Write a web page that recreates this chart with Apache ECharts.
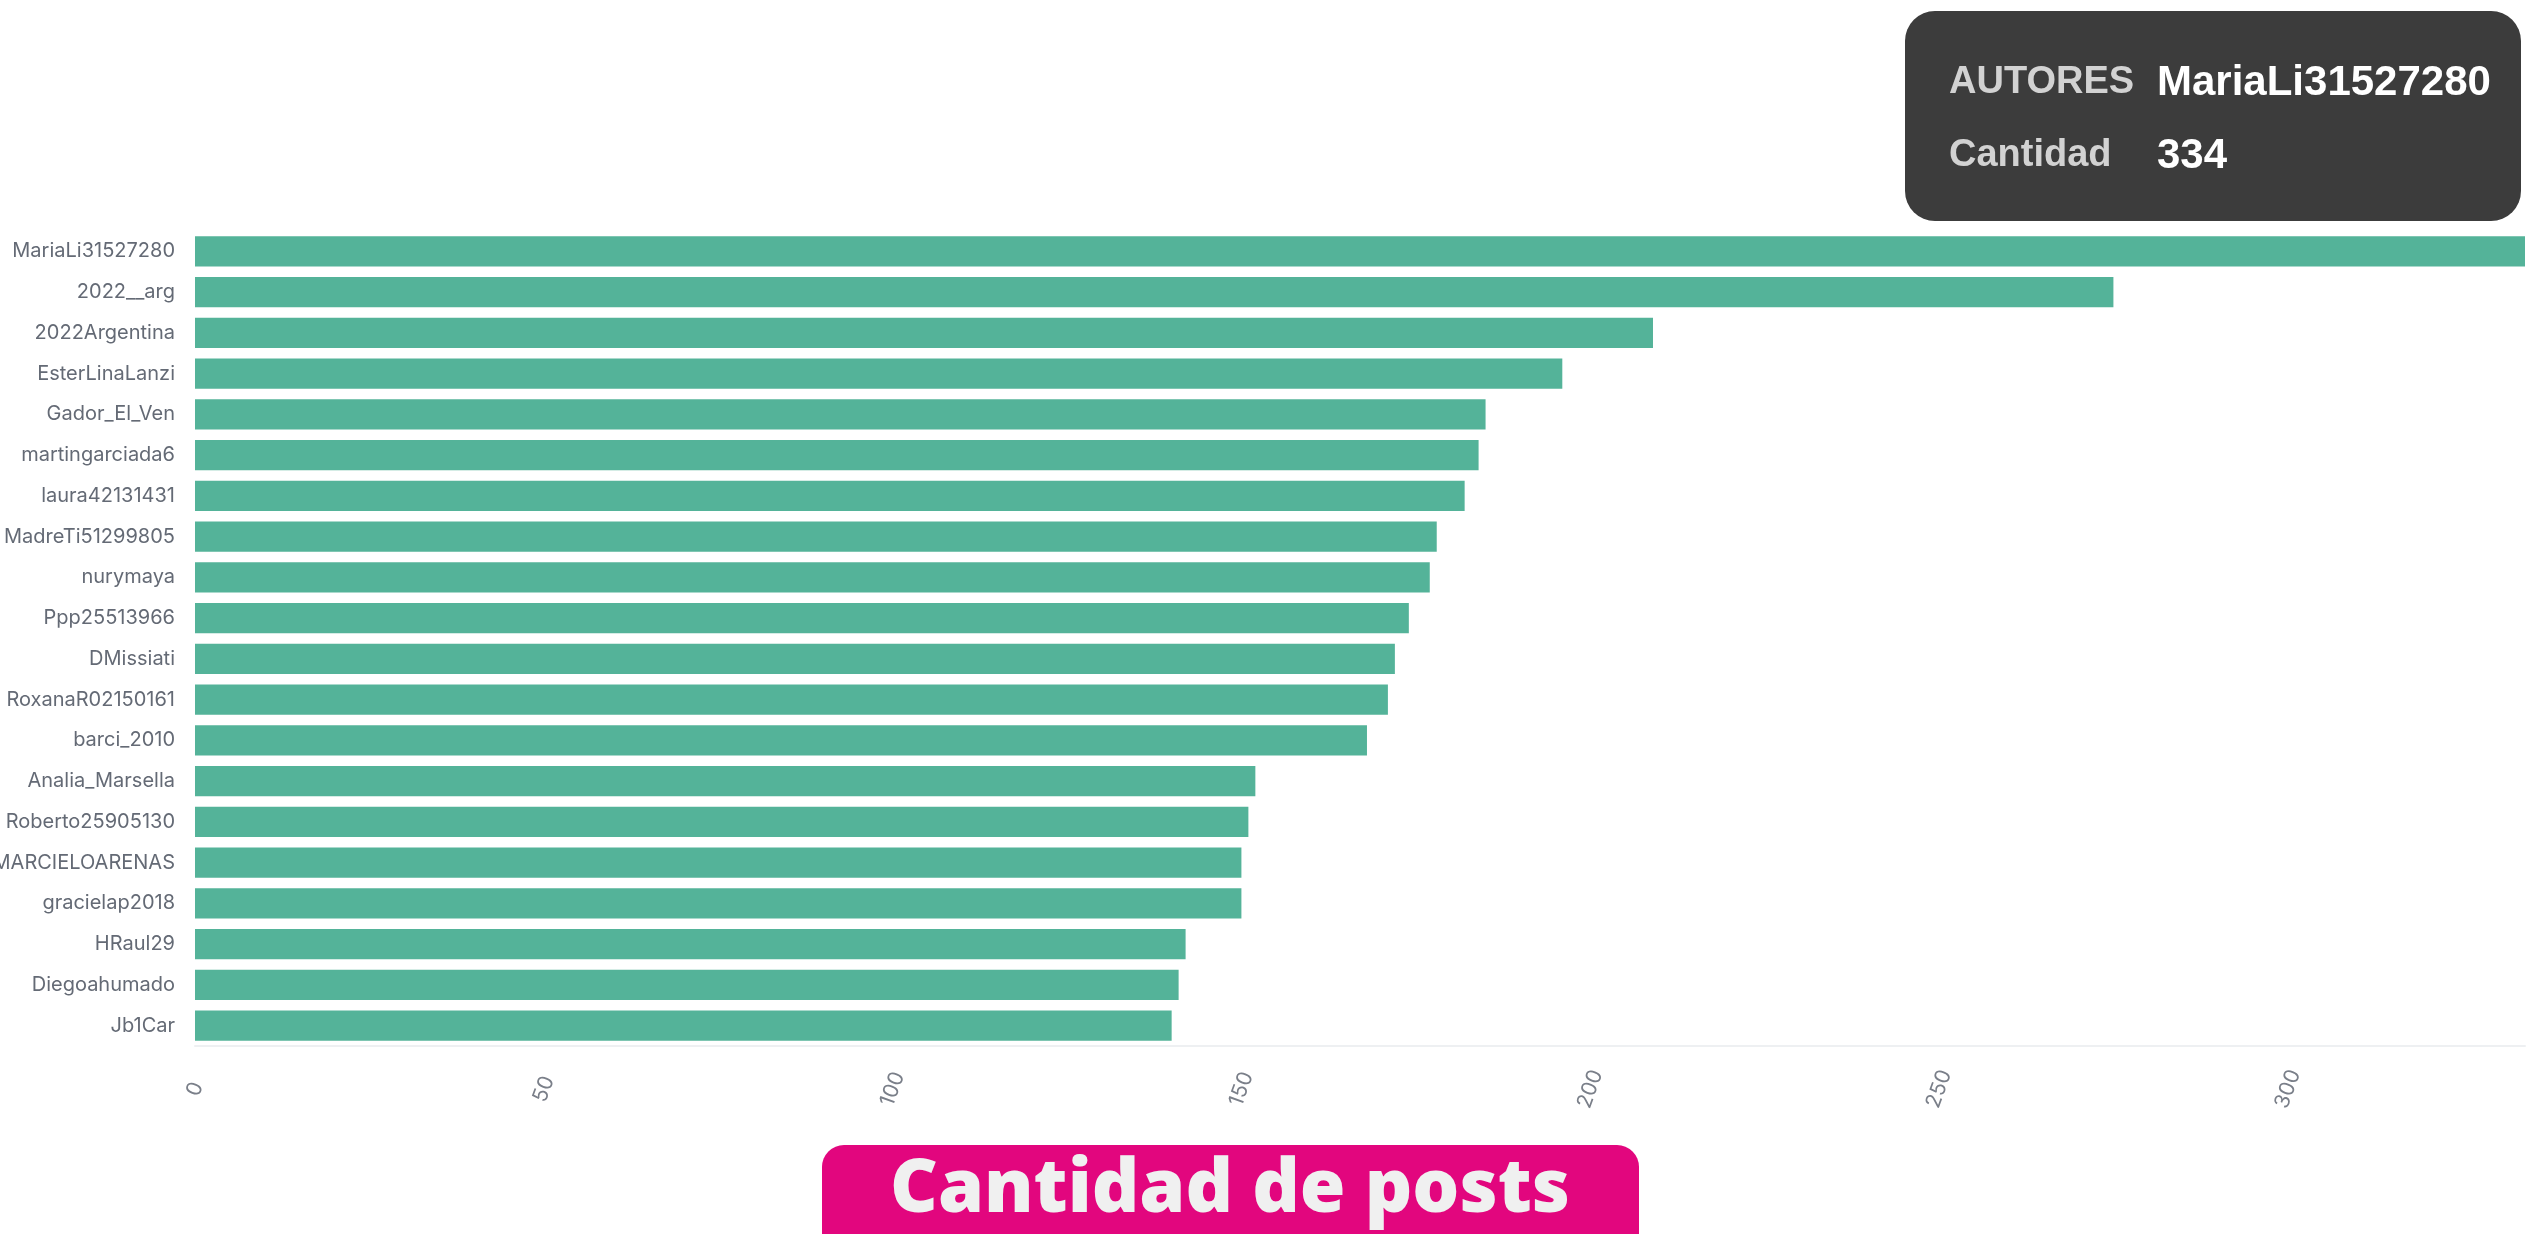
<!DOCTYPE html>
<html>
<head>
<meta charset="utf-8">
<title>Cantidad de posts</title>
<script src="https://cdn.jsdelivr.net/npm/echarts@6/dist/echarts.min.js"></script>
<style>
  html, body { margin: 0; padding: 0; background: #fff; }
  #chart { width: 2529px; height: 1234px; }
</style>
</head>
<body>
<div id="chart"></div>
<script>
  // autores (eje vertical, de arriba hacia abajo)
  var autores = [
    'MariaLi31527280', '2022__arg', '2022Argentina', 'EsterLinaLanzi', 'Gador_El_Ven',
    'martingarciada6', 'laura42131431', 'MadreTi51299805', 'nurymaya', 'Ppp25513966',
    'DMissiati', 'RoxanaR02150161', 'barci_2010', 'Analia_Marsella', 'Roberto25905130',
    'MARCIELOARENAS', 'gracielap2018', 'HRaul29', 'Diegoahumado', 'Jb1Car'
  ]
  // cantidad de posts por autor
  var cantidad = [
    334, 275, 209, 196, 185,
    184, 182, 178, 177, 174,
    172, 171, 168, 152, 151,
    150, 150, 142, 141, 140
  ]
  // etiquetas del tooltip fijo
  var tooltipCampos = ['AUTORES', 'Cantidad']
  var titulo = 'Cantidad de posts'

  var chart = echarts.init(document.getElementById('chart'))

  var labelFont = 'Inter, "Noto Sans", sans-serif'
  var tipFont = '"Liberation Sans", Arial, sans-serif'

  chart.setOption({
    backgroundColor: '#ffffff',
    animation: false,
    grid: {
      left: 195,
      right: 4,
      top: 231,
      bottom: 188,
      // las etiquetas largas se cortan en el borde, no mueven el grid
      outerBoundsMode: 'none',
      containLabel: false
    },
    xAxis: {
      type: 'value',
      min: 0,
      max: cantidad[0],
      interval: 50,
      axisLine: { show: true, lineStyle: { color: '#eef0f2', width: 2 } },
      axisTick: { show: false },
      splitLine: { show: false },
      axisLabel: {
        rotate: 70,
        align: 'center',
        verticalAlign: 'middle',
        margin: 43,
        showMaxLabel: false,
        color: '#7a7f89',
        fontFamily: labelFont,
        fontSize: 21
      }
    },
    yAxis: {
      type: 'category',
      inverse: true,
      data: autores,
      axisLine: { show: false },
      axisTick: { show: false },
      axisLabel: {
        margin: 20,
        color: '#646a75',
        fontFamily: labelFont,
        fontSize: 20
      }
    },
    series: [{
      type: 'bar',
      data: cantidad,
      barCategoryGap: '26%',
      itemStyle: { color: '#54b399' }
    }],
    graphic: [
      // tooltip fijo del primer autor
      {
        type: 'group',
        left: 1905,
        top: 11,
        children: [
          {
            type: 'rect',
            shape: { x: 0, y: 0, width: 616, height: 210, r: 30 },
            style: { fill: '#3c3c3c' }
          },
          {
            type: 'text', x: 44, y: 72,
            style: { text: tooltipCampos[0], fill: '#d2d2d2', font: 'bold 38px ' + tipFont, verticalAlign: 'middle' }
          },
          {
            type: 'text', x: 252, y: 72,
            style: { text: autores[0], fill: '#ffffff', font: 'bold 42px ' + tipFont, verticalAlign: 'middle' }
          },
          {
            type: 'text', x: 44, y: 145,
            style: { text: tooltipCampos[1], fill: '#d2d2d2', font: 'bold 38px ' + tipFont, verticalAlign: 'middle' }
          },
          {
            type: 'text', x: 252, y: 145,
            style: { text: String(cantidad[0]), fill: '#ffffff', font: 'bold 42px ' + tipFont, verticalAlign: 'middle' }
          }
        ]
      },
      // titulo magenta abajo
      {
        type: 'group',
        left: 822,
        top: 1145,
        children: [
          {
            type: 'rect',
            shape: { x: 0, y: 0, width: 817, height: 130, r: 22 },
            style: { fill: '#e2067e' }
          },
          {
            type: 'text', x: 408, y: 46,
            style: {
              text: titulo, fill: '#f0f0f0',
              font: '800 74px "Open Sans", Lato, sans-serif',
              align: 'center', verticalAlign: 'middle'
            }
          }
        ]
      }
    ]
  })
</script>
</body>
</html>
